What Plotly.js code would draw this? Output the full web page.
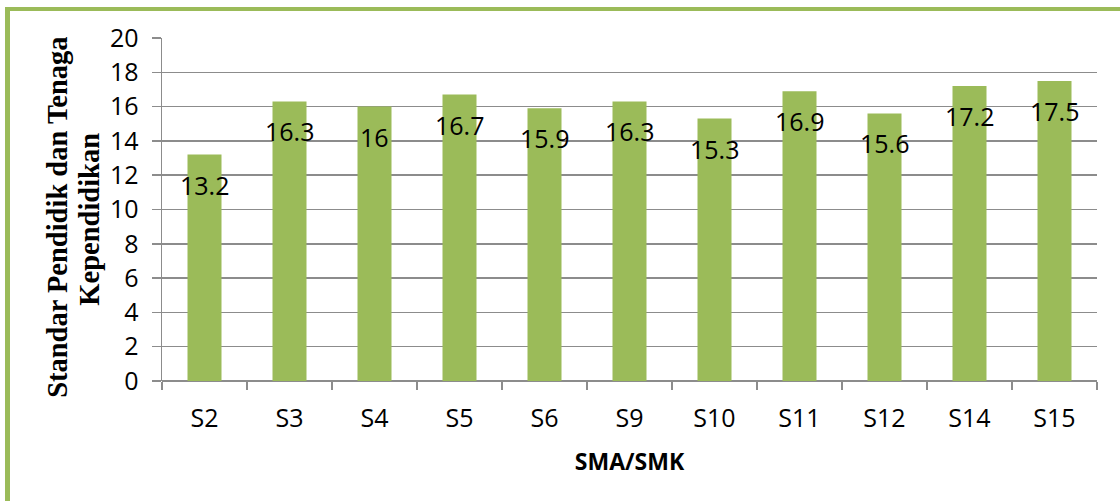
<!DOCTYPE html>
<html>
<head>
<meta charset="utf-8">
<script src="https://cdn.plot.ly/plotly-3.0.1.min.js"></script>
<style>
  html, body { margin: 0; padding: 0; background: #ffffff; }
  #wrap { position: relative; width: 1120px; height: 501px; overflow: hidden; }
  #frame { position: absolute; left: 5px; top: 7px; right: -10px; bottom: -10px;
           border-left: 5px solid #9BBB59; border-top: 4px solid #9BBB59; }
  #chart { position: absolute; left: 0; top: 0; width: 1120px; height: 501px; }
</style>
</head>
<body>
<div id="wrap">
  <div id="frame"></div>
  <div id="chart"></div>
</div>
<script>
// ---- data ----
const categories = ["S2", "S3", "S4", "S5", "S6", "S9", "S10", "S11", "S12", "S14", "S15"];
const values = [13.2, 16.3, 16, 16.7, 15.9, 16.3, 15.3, 16.9, 15.6, 17.2, 17.5];
const yTickValues = [0, 2, 4, 6, 8, 10, 12, 14, 16, 18, 20];
const xTitle = "SMA/SMK";
const yTitleLines = ["Standar Pendidik dan Tenaga", "Kependidikan"];

const barColor = "#9BBB59";
const gridColor = "#8C8C8C";
const sans = "'Open Sans', 'Liberation Sans', sans-serif";
const serif = "'Liberation Serif', 'Times New Roman', serif";

const trace = {
  type: "bar",
  x: categories,
  y: values,
  marker: { color: barColor, line: { width: 0 } },
  hoverinfo: "x+y"
};

const labelAnnotations = categories.map((c, i) => ({
  x: c, y: values[i], xref: "x", yref: "y",
  text: String(values[i]),
  showarrow: false,
  yanchor: "middle", xanchor: "center",
  yshift: -30,
  font: { family: sans, size: 25, color: "#000000" }
}));

const titlePos = [{ x: -0.1125, y: 0.478 }, { x: -0.0775, y: 0.472 }];
const yTitleAnnotations = yTitleLines.map((t, i) => ({
  xref: "paper", yref: "paper",
  x: titlePos[i].x, y: titlePos[i].y,
  xanchor: "center", yanchor: "middle",
  text: t, textangle: -90, showarrow: false,
  font: { family: serif, size: 28.5, color: "#000000", weight: "bold" }
}));

const layout = {
  width: 1120, height: 501,
  margin: { l: 162, r: 23, t: 38, b: 120, pad: 0 },
  paper_bgcolor: "rgba(0,0,0,0)",
  plot_bgcolor: "rgba(0,0,0,0)",
  showlegend: false,
  bargap: 0.6,
  xaxis: {
    type: "category",
    showgrid: false,
    showline: false,
    ticks: "outside", ticklen: 8, tickwidth: 1.5, tickcolor: gridColor,
    tickson: "boundaries",
    ticklabelstandoff: 20,
    tickfont: { family: sans, size: 25, color: "#000000" },
    title: { text: xTitle, standoff: 20, font: { family: sans, size: 23, color: "#000000", weight: "bold" } },
    automargin: false
  },
  yaxis: {
    range: [0, 20],
    tickvals: yTickValues,
    ticktext: yTickValues.map(String),
    showgrid: true, gridcolor: gridColor, gridwidth: 1.5,
    zeroline: true, zerolinecolor: gridColor, zerolinewidth: 1.5,
    showline: true, linecolor: gridColor, linewidth: 1.5,
    ticks: "outside", ticklen: 9, tickwidth: 1.5, tickcolor: gridColor,
    ticklabelstandoff: 8,
    tickfont: { family: sans, size: 25, color: "#000000" },
    automargin: false,
    fixedrange: true
  },
  annotations: labelAnnotations.concat(yTitleAnnotations)
};

Plotly.newPlot("chart", [trace], layout, { displayModeBar: false, staticPlot: true });
</script>
</body>
</html>
